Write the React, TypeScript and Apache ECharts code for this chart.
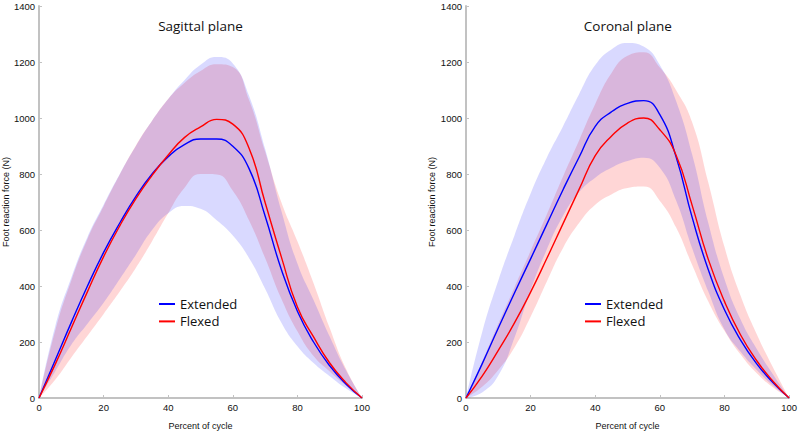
import React, { useEffect, useRef } from "react";
import * as echarts from "echarts";

// Percent of cycle (x categories)
const pct = [0, 5, 10, 15, 20, 25, 30, 35, 40, 45, 50, 55, 60, 65, 70, 75, 80, 85, 90, 95, 100];

// Sagittal plane
const sagExtMean = [0, 135, 270, 400, 520, 625, 720, 800, 862, 905, 925, 925, 899, 820, 650, 460, 310, 200, 115, 50, 0];
const sagExtUpper = [0, 255, 430, 575, 690, 800, 900, 990, 1068, 1135, 1190, 1218, 1195, 1080, 890, 670, 480, 350, 220, 100, 0];
const sagExtLower = [0, 95, 190, 265, 340, 425, 512, 600, 660, 686, 676, 635, 580, 500, 390, 270, 185, 125, 78, 35, 0];
const sagFlexMean = [0, 120, 250, 380, 505, 615, 712, 795, 868, 930, 968, 995, 978, 893, 698, 505, 325, 218, 125, 55, 0];
const sagFlexUpper = [0, 240, 420, 568, 685, 798, 902, 990, 1068, 1125, 1168, 1192, 1182, 1065, 880, 700, 560, 410, 250, 105, 0];
const sagFlexLower = [0, 65, 145, 222, 300, 380, 465, 560, 660, 750, 800, 798, 740, 635, 500, 355, 238, 150, 95, 45, 0];

// Coronal plane
const corExtMean = [0, 122, 250, 375, 497, 620, 743, 860, 970, 1022, 1052, 1062, 1012, 862, 645, 458, 315, 207, 122, 55, 0];
const corExtUpper = [0, 235, 420, 580, 730, 858, 970, 1085, 1189, 1245, 1268, 1255, 1189, 1062, 870, 625, 425, 280, 175, 85, 0];
const corExtLower = [0, 20, 80, 215, 385, 530, 650, 735, 787, 822, 846, 858, 822, 706, 535, 380, 245, 165, 100, 45, 0];
const corFlexMean = [0, 78, 170, 268, 378, 498, 622, 745, 866, 935, 982, 1000, 958, 868, 688, 495, 345, 225, 133, 60, 0];
const corFlexUpper = [0, 130, 265, 395, 525, 655, 790, 920, 1050, 1160, 1222, 1235, 1180, 1100, 985, 770, 540, 365, 228, 110, 0];
const corFlexLower = [0, 40, 100, 180, 290, 415, 535, 625, 690, 727, 750, 755, 704, 610, 475, 345, 240, 155, 88, 38, 0];

const yTicks = [0, 200, 400, 600, 800, 1000, 1200, 1400];
const xTicks = [0, 20, 40, 60, 80, 100];
const titles = ["Sagittal plane", "Coronal plane"];
const seriesNames = ["Extended", "Flexed"];

const BLUE = "#0000ff";
const RED = "#ff0000";
const BLUE_BAND = "rgba(0,0,255,0.15)";
const RED_BAND = "rgba(255,0,0,0.16)";
const AXIS_GRAY = "#c2c2c2";

function band(id: string, lower: number[], upper: number[], color: string, idx: number) {
  const diff = upper.map((u, i) => u - lower[i]);
  return [
    {
      name: id + " lower",
      type: "line",
      xAxisIndex: idx,
      yAxisIndex: idx,
      stack: id + idx,
      data: lower,
      smooth: true,
      showSymbol: false,
      symbol: "none",
      silent: true,
      lineStyle: { opacity: 0, width: 0 },
    },
    {
      name: id + " band",
      type: "line",
      xAxisIndex: idx,
      yAxisIndex: idx,
      stack: id + idx,
      data: diff,
      smooth: true,
      showSymbol: false,
      symbol: "none",
      silent: true,
      lineStyle: { opacity: 0, width: 0 },
      areaStyle: { color, opacity: 1 },
    },
  ];
}

function meanLine(name: string, vals: number[], color: string, idx: number) {
  return {
    name,
    type: "line",
    xAxisIndex: idx,
    yAxisIndex: idx,
    data: vals,
    smooth: true,
    showSymbol: false,
    symbol: "none",
    color,
    lineStyle: { color, width: 1.4 },
  };
}

const tickFont = { color: "#111", fontSize: 9.5, fontFamily: "Liberation Sans, Arial, sans-serif" };
const showTick = (i: number) => xTicks.indexOf(pct[i]) >= 0;

function xAxis(idx: number) {
  return {
    type: "category",
    gridIndex: idx,
    data: pct.map(String),
    boundaryGap: false,
    name: "Percent of cycle",
    nameLocation: "middle",
    nameGap: 23,
    nameTextStyle: { ...tickFont, fontSize: 9 },
    axisLine: { show: true, lineStyle: { color: AXIS_GRAY, width: 2 } },
    axisTick: { show: true, inside: true, length: 3, interval: (i: number) => showTick(i), lineStyle: { color: AXIS_GRAY, width: 1 } },
    axisLabel: { ...tickFont, margin: 4, interval: (i: number) => showTick(i) },
    splitLine: { show: false },
  };
}

function yAxis(idx: number) {
  return {
    type: "value",
    gridIndex: idx,
    min: yTicks[0],
    max: yTicks[yTicks.length - 1],
    interval: 200,
    name: "Foot reaction force (N)",
    nameLocation: "middle",
    nameGap: 27,
    nameTextStyle: { ...tickFont, fontSize: 9 },
    axisLine: { show: true, lineStyle: { color: AXIS_GRAY, width: 2 } },
    axisTick: { show: true, inside: true, length: 3, lineStyle: { color: AXIS_GRAY, width: 1 } },
    axisLabel: { ...tickFont, margin: 4, formatter: (v: number) => String(v) },
    splitLine: { show: false },
  };
}

function legend(left: number) {
  return {
    data: seriesNames,
    orient: "vertical",
    left,
    top: 292.5,
    itemWidth: 16,
    itemHeight: 2,
    itemGap: 4.4,
    icon: "rect",
    selectedMode: false,
    textStyle: { fontFamily: "Open Sans, sans-serif", fontSize: 13, color: "#111", lineHeight: 13 },
  };
}

export default function App() {
  const ref = useRef<HTMLDivElement>(null);
  useEffect(() => {
    if (!ref.current) return;
    const chart = echarts.init(ref.current, null, { renderer: "svg" });
    const option = {
      animation: false,
      backgroundColor: "#ffffff",
      grid: [
        { left: 38, right: 438, top: 6, bottom: 35 },
        { left: 466, right: 10, top: 6, bottom: 35 },
      ],
      xAxis: [xAxis(0), xAxis(1)],
      yAxis: [yAxis(0), yAxis(1)],
      legend: [legend(154), legend(580)],
      graphic: [
        {
          type: "text",
          x: 200.5,
          y: 25.7,
          style: { text: titles[0], align: "center", verticalAlign: "middle", fontSize: 13.5, fontFamily: "Open Sans, sans-serif", fill: "#111" },
        },
        {
          type: "text",
          x: 627.8,
          y: 25.7,
          style: { text: titles[1], align: "center", verticalAlign: "middle", fontSize: 13.5, fontFamily: "Open Sans, sans-serif", fill: "#111" },
        },
      ],
      series: [
        ...band("Flexed", sagFlexLower, sagFlexUpper, RED_BAND, 0),
        ...band("Extended", sagExtLower, sagExtUpper, BLUE_BAND, 0),
        meanLine(seriesNames[0], sagExtMean, BLUE, 0),
        meanLine(seriesNames[1], sagFlexMean, RED, 0),
        ...band("Flexed", corFlexLower, corFlexUpper, RED_BAND, 1),
        ...band("Extended", corExtLower, corExtUpper, BLUE_BAND, 1),
        meanLine(seriesNames[0], corExtMean, BLUE, 1),
        meanLine(seriesNames[1], corFlexMean, RED, 1),
      ],
    };
    chart.setOption(option as any);
    return () => chart.dispose();
  }, []);
  return (
    <div
      ref={ref}
      style={{ position: "fixed", left: 0, top: 0, width: 800, height: 435, background: "#fff" }}
    />
  );
}
